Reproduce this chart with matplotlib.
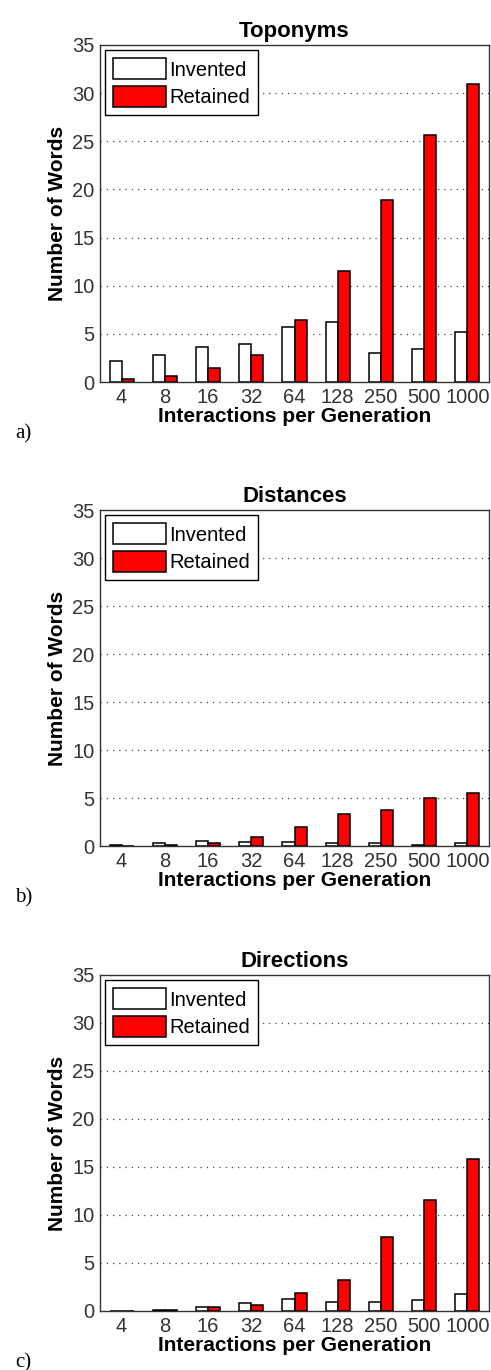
import numpy as np
import matplotlib
matplotlib.use("Agg")
import matplotlib.pyplot as plt

plt.rcParams['font.family'] = ['Liberation Sans', 'DejaVu Sans']

groups = ['4', '8', '16', '32', '64', '128', '250', '500', '1000']

# a) toponyms
topo_invented = [2.2, 2.85, 3.65, 3.95, 5.7, 6.25, 3.0, 3.4, 5.2]
topo_retained = [0.3, 0.65, 1.45, 2.85, 6.4, 11.55, 18.95, 25.65, 30.9]
# b) distances
dist_invented = [0.15, 0.3, 0.55, 0.4, 0.45, 0.3, 0.3, 0.15, 0.3]
dist_retained = [0.0, 0.15, 0.3, 0.95, 1.95, 3.3, 3.7, 4.95, 5.5]
# c) directions
dir_invented = [0.0, 0.15, 0.4, 0.8, 1.2, 0.95, 0.95, 1.1, 1.8]
dir_retained = [0.0, 0.1, 0.4, 0.65, 1.9, 3.25, 7.75, 11.6, 15.85]

panels = [
    ('Toponyms', topo_invented, topo_retained, 'a)', 45, 382),
    ('Distances', dist_invented, dist_retained, 'b)', 510, 846),
    ('Directions', dir_invented, dir_retained, 'c)', 975, 1311),
]

W, H = 491, 1370
fig = plt.figure(figsize=(W / 100, H / 100), dpi=100)

x = np.arange(1, len(groups) + 1)
bw = 0.28
for title, inv, ret, tag, top, bot in panels:
    ax = fig.add_axes([100 / W, (H - bot) / H, 389 / W, (bot - top) / H])
    ax.bar(x - bw / 2, inv, bw, color='white', edgecolor='black', linewidth=1.1,
           label='Invented', zorder=3)
    ax.bar(x + bw / 2, ret, bw, color='#ff0000', edgecolor='black', linewidth=1.1,
           label='Retained', zorder=3)
    ax.set_xlim(0.5, 9.5)
    ax.set_ylim(0, 35)
    ax.set_yticks(range(0, 36, 5))
    ax.set_xticks(x)
    ax.set_xticklabels(groups)
    for yv in range(5, 35, 5):
        ax.axhline(yv, color='#444444', linestyle=(0, (1, 4)), linewidth=0.9, zorder=1)
    ax.tick_params(length=0, labelsize=14.5, colors='#333333', pad=4)
    for s in ax.spines.values():
        s.set_color('#333333')
        s.set_linewidth(1.0)
    ax.set_title(title, fontsize=16, fontweight='bold', pad=6)
    ax.set_ylabel('Number of Words', fontsize=15, fontweight='bold', labelpad=4)
    ax.set_xlabel('Interactions per Generation', fontsize=15, fontweight='bold', labelpad=0)
    leg = ax.legend(loc='upper left', fontsize=14.5, handlelength=2.65, handleheight=1.25,
                    fancybox=False, framealpha=1, edgecolor='black',
                    borderaxespad=0.25, handletextpad=0.15, labelspacing=0.3,
                    borderpad=0.4)
    leg.get_frame().set_linewidth(1.0)
    leg.set_zorder(5)
    fig.text(15 / W, 1 - (bot + 52) / H, tag, fontsize=15,
             family=['Liberation Serif', 'DejaVu Serif'], va='center')

fig.savefig('out.png', dpi=100)
